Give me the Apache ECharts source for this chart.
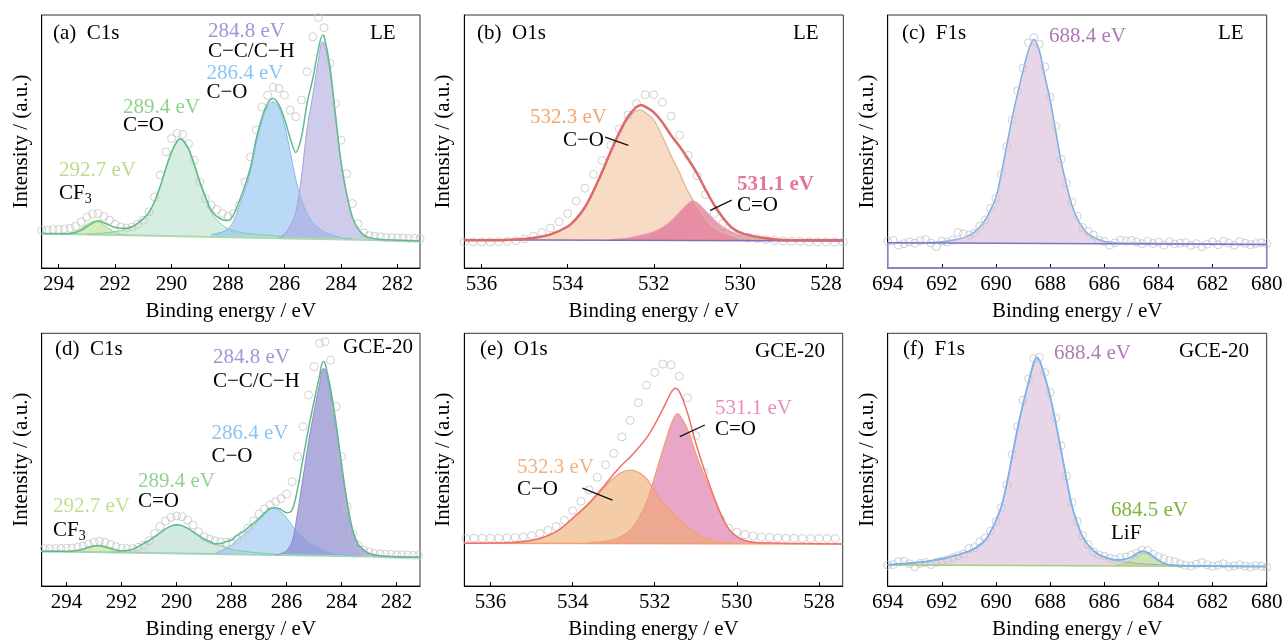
<!DOCTYPE html>
<html><head><meta charset="utf-8">
<script src="https://cdn.jsdelivr.net/npm/echarts@6/dist/echarts.min.js"></script>
<style>html,body{margin:0;padding:0;background:#fff}#c{width:1285px;height:644px}</style>
</head><body><div id="c"></div>
<script>
// ---------- tick labels ----------
const cTicksC = [294,292,290,288,286,284,282];
const cTicksO = [536,534,532,530,528];
const cTicksF = [694,692,690,688,686,684,682,680];

// ---------- (a) C1s LE ----------
const aRaw = [[294.6,14.9],[294.4,14.9],[294.2,15.2],[294.0,15.2],[293.8,15.4],[293.6,15.7],[293.4,16.5],[293.2,18.2],[293.0,20.2],[292.8,21.4],[292.6,21.5],[292.4,20.4],[292.2,18.9],[292.0,17.3],[291.8,16.2],[291.6,15.8],[291.4,16.2],[291.2,17.3],[291.0,18.9],[290.8,22.2],[290.6,28.1],[290.4,36.7],[290.2,45.9],[290.0,51.2],[289.8,53.2],[289.6,52.8],[289.4,49.2],[289.2,42.6],[289.0,34.0],[288.8,27.4],[288.6,24.8],[288.4,23.1],[288.2,21.5],[288.0,20.4],[287.8,21.5],[287.6,24.8],[287.4,34.0],[287.2,43.9],[287.0,54.5],[286.8,63.7],[286.6,68.3],[286.4,71.4],[286.2,71.0],[286.0,68.3],[285.8,62.4],[285.6,59.8],[285.4,66.4],[285.2,77.6],[285.0,91.4],[284.8,99.0],[284.6,95.0],[284.4,80.9],[284.2,65.0],[284.0,50.5],[283.8,37.3],[283.6,25.5],[283.4,17.5],[283.2,13.9],[283.0,12.8],[282.8,12.5],[282.6,12.3],[282.4,12.0],[282.2,12.0],[282.0,11.9],[281.8,11.9],[281.6,11.7],[281.4,11.7],[281.2,11.6]];
const aBg = [[294.6,13.6],[281.2,10.7]];
const aCF3 = [[293.9,13.5],[293.7,13.6],[293.5,14.1],[293.3,15.0],[293.1,16.5],[292.9,17.9],[292.7,18.5],[292.5,17.8],[292.3,16.3],[292.1,14.8],[291.9,13.7],[291.7,13.2],[291.5,13.0]];
const aCdO = [[293.0,13.4],[292.6,13.6],[292.2,14.1],[291.8,14.8],[291.4,16.3],[291.0,19.5],[290.8,22.0],[290.6,26.4],[290.4,32.3],[290.2,39.5],[290.0,45.8],[289.8,50.0],[289.7,50.8],[289.6,50.3],[289.4,46.8],[289.2,40.6],[289.0,33.5],[288.8,27.4],[288.6,22.0],[288.4,19.0],[288.2,17.0],[288.0,15.5],[287.6,14.2],[287.2,13.5],[286.8,13.1],[286.4,12.8],[286.0,12.4]];
const aCO = [[288.6,13.2],[288.2,14.3],[288.0,15.5],[287.8,18.5],[287.6,24.5],[287.4,31.0],[287.2,38.5],[287.0,49.5],[286.8,58.0],[286.6,63.8],[286.4,65.7],[286.2,63.5],[286.0,56.5],[285.8,46.0],[285.6,35.0],[285.4,27.0],[285.2,21.5],[285.0,18.0],[284.8,15.8],[284.6,14.3],[284.4,13.3],[284.0,12.0],[283.6,11.5]];
const aCC = [[286.2,11.9],[286.0,13.5],[285.8,16.5],[285.6,22.0],[285.4,36.0],[285.2,55.0],[285.0,68.0],[284.8,82.0],[284.65,89.5],[284.6,89.0],[284.4,78.5],[284.2,60.0],[284.0,41.5],[283.8,29.0],[283.6,20.0],[283.4,15.5],[283.2,13.0],[283.0,12.0],[282.6,11.3]];
const aEnv = [[294.6,13.6],[294.2,13.5],[293.8,13.5],[293.6,13.6],[293.4,14.0],[293.2,15.0],[293.0,16.4],[292.8,17.8],[292.6,18.7],[292.4,17.9],[292.2,16.9],[292.0,16.1],[291.8,15.7],[291.6,15.7],[291.4,16.3],[291.2,17.7],[291.0,19.5],[290.8,22.0],[290.6,26.4],[290.4,32.3],[290.2,39.5],[290.0,45.8],[289.8,50.3],[289.7,51.0],[289.6,50.6],[289.4,47.2],[289.2,41.1],[289.0,34.2],[288.8,28.3],[288.6,22.9],[288.4,20.4],[288.2,19.1],[288.0,18.8],[287.8,21.1],[287.6,26.5],[287.4,32.6],[287.2,40.0],[287.0,51.1],[286.8,59.4],[286.6,65.0],[286.4,67.0],[286.2,64.6],[286.0,58.9],[285.8,51.3],[285.6,45.7],[285.4,51.7],[285.2,65.1],[285.0,74.7],[284.8,86.4],[284.65,92.0],[284.6,91.8],[284.4,80.4],[284.2,61.2],[284.0,42.2],[283.8,29.4],[283.6,20.3],[283.4,15.7],[283.2,13.1],[283.0,12.0],[282.6,11.3],[282.0,11.0],[281.2,10.7]];

// ---------- (b) O1s LE ----------
const bRaw = [[536.4,10.3],[536.2,10.3],[536.0,10.3],[535.8,10.3],[535.6,10.4],[535.4,10.5],[535.2,10.8],[535.0,11.5],[534.8,12.5],[534.6,14.0],[534.4,15.8],[534.2,18.3],[534.0,21.5],[533.8,26.5],[533.6,31.5],[533.4,37.0],[533.2,42.5],[533.0,48.5],[532.8,55.0],[532.6,60.5],[532.4,65.0],[532.2,68.5],[532.0,68.5],[531.8,65.5],[531.6,60.0],[531.4,52.5],[531.2,44.5],[531.0,36.5],[530.8,29.0],[530.6,21.5],[530.4,17.5],[530.2,14.5],[530.0,13.0],[529.8,12.0],[529.6,11.6],[529.4,11.2],[529.2,10.9],[529.0,10.7],[528.8,10.6],[528.6,10.5],[528.4,10.4],[528.2,10.3],[528.0,10.3],[527.8,10.3],[527.6,10.3]];
const bBg = [[536.4,11.2],[527.6,10.7]];
const bCO = [[535.6,11.0],[535.2,11.3],[534.8,11.9],[534.6,12.5],[534.4,13.3],[534.2,14.5],[534.0,16.4],[533.8,19.5],[533.6,24.0],[533.4,30.5],[533.2,38.0],[533.0,45.8],[532.8,53.0],[532.6,59.0],[532.4,62.2],[532.3,62.4],[532.2,61.5],[532.0,58.5],[531.8,52.0],[531.6,44.5],[531.4,37.5],[531.2,30.0],[531.0,24.5],[530.8,19.5],[530.6,16.0],[530.4,14.0],[530.2,12.8],[530.0,12.0],[529.6,11.3],[529.2,11.0]];
const bCdO = [[533.0,11.2],[532.6,11.8],[532.4,12.5],[532.2,13.3],[532.0,14.3],[531.8,16.0],[531.6,18.5],[531.4,22.0],[531.2,25.5],[531.1,26.4],[531.0,25.8],[530.8,22.5],[530.6,19.0],[530.4,16.2],[530.2,14.3],[530.0,13.0],[529.8,12.3],[529.4,11.5],[529.0,11.1]];
const bEnv = [[536.4,11.0],[535.6,11.0],[535.2,11.3],[534.8,11.9],[534.4,13.3],[534.0,16.4],[533.8,19.5],[533.6,24.0],[533.4,30.5],[533.2,38.0],[533.0,46.0],[532.8,53.5],[532.6,59.8],[532.4,63.7],[532.3,64.3],[532.2,63.8],[532.0,61.5],[531.8,57.5],[531.6,52.5],[531.4,48.0],[531.2,43.0],[531.0,37.5],[530.8,31.0],[530.6,25.0],[530.4,20.0],[530.2,16.1],[530.0,14.0],[529.8,13.0],[529.4,11.8],[529.0,11.1],[528.4,11.0],[527.6,11.0]];
const bLeadCO = [[533.13,51.7],[532.59,48.5]];
const bLeadCdO = [[530.19,26.8],[530.69,22.8]];

// ---------- (c) F1s LE ----------
const cRaw = [[694.0,10.5],[693.8,10.9],[693.6,9.0],[693.4,9.6],[693.2,10.3],[693.0,9.8],[692.8,10.8],[692.6,11.2],[692.4,9.9],[692.2,8.5],[692.0,10.6],[691.8,10.2],[691.6,11.0],[691.4,14.0],[691.2,13.5],[691.0,13.0],[690.8,13.8],[690.6,16.5],[690.4,19.0],[690.2,23.5],[690.0,27.5],[689.8,37.0],[689.6,48.0],[689.4,58.5],[689.2,70.0],[689.0,79.0],[688.8,89.0],[688.6,91.0],[688.4,88.5],[688.2,79.5],[688.0,67.5],[687.8,56.0],[687.6,43.0],[687.4,33.5],[687.2,26.0],[687.0,20.5],[686.8,16.0],[686.6,14.5],[686.4,13.0],[686.2,11.0],[686.0,10.5],[685.8,9.0],[685.6,10.0],[685.4,11.0],[685.2,10.6],[685.0,10.9],[684.8,10.3],[684.6,9.6],[684.4,10.5],[684.2,9.7],[684.0,10.2],[683.8,9.0],[683.6,10.4],[683.4,9.5],[683.2,9.8],[683.0,10.0],[682.8,8.9],[682.6,9.6],[682.4,8.4],[682.2,9.4],[682.0,10.3],[681.8,9.2],[681.6,10.5],[681.4,9.8],[681.2,9.0],[681.0,10.4],[680.8,9.8],[680.6,9.2],[680.4,9.6],[680.2,10.0],[680.0,9.7]];
const cBg = [[694,10.0],[680,9.3]];
const cBox = [[694,10.0],[694,0],[680,0],[680,9.3]];
const cFit = [[694.0,10.0],[693.0,10.0],[692.4,10.1],[692.0,10.4],[691.6,11.0],[691.2,12.0],[691.0,12.8],[690.8,14.2],[690.6,16.2],[690.4,19.0],[690.2,23.0],[690.0,28.0],[689.8,37.5],[689.6,48.5],[689.4,59.5],[689.2,69.0],[689.0,78.0],[688.8,86.0],[688.6,90.4],[688.4,86.0],[688.2,76.0],[688.0,66.4],[687.8,54.5],[687.6,42.5],[687.4,33.0],[687.2,25.0],[687.0,19.5],[686.8,16.0],[686.6,13.5],[686.4,12.2],[686.2,11.2],[686.0,10.5],[685.6,10.0],[685.0,9.8],[684.0,9.7],[682.0,9.5],[680.0,9.3]];

// ---------- (d) C1s GCE-20 ----------
const dRaw = [[294.8,14.8],[294.6,14.8],[294.4,14.8],[294.2,14.9],[294.0,15.0],[293.8,15.0],[293.6,15.3],[293.4,15.8],[293.2,16.5],[293.0,17.3],[292.8,17.7],[292.6,17.3],[292.4,16.4],[292.2,15.6],[292.0,15.0],[291.8,14.8],[291.6,14.8],[291.4,15.3],[291.2,16.2],[291.0,17.9],[290.8,20.8],[290.6,23.5],[290.4,25.7],[290.2,27.2],[290.0,27.7],[289.8,27.4],[289.6,26.1],[289.4,24.1],[289.2,21.5],[289.0,19.5],[288.8,18.5],[288.6,17.9],[288.4,17.5],[288.2,17.3],[288.0,17.5],[287.8,18.5],[287.6,20.2],[287.4,22.8],[287.2,25.7],[287.0,28.5],[286.8,30.5],[286.6,32.1],[286.4,33.4],[286.2,34.6],[286.0,36.4],[285.8,41.3],[285.6,51.2],[285.4,63.1],[285.2,75.6],[285.0,86.8],[284.8,96.0],[284.6,96.7],[284.4,89.4],[284.2,71.0],[284.0,51.2],[283.8,31.4],[283.6,20.8],[283.4,16.2],[283.2,14.2],[283.0,13.5],[282.8,12.9],[282.6,12.7],[282.4,12.5],[282.2,12.5],[282.0,12.4],[281.8,12.3],[281.6,12.3],[281.4,12.1],[281.2,12.1]];
const dBg = [[294.9,13.8],[281.15,11.4]];
const dCF3 = [[294.0,13.7],[293.6,14.1],[293.4,14.6],[293.2,15.3],[293.0,15.8],[292.9,15.9],[292.8,15.8],[292.6,15.3],[292.4,14.6],[292.2,14.0],[291.8,13.4]];
const dCdO = [[292.4,13.4],[292.0,13.6],[291.6,14.4],[291.4,15.6],[291.2,16.8],[291.0,18.0],[290.8,19.5],[290.6,21.0],[290.4,22.6],[290.2,23.7],[290.0,24.1],[289.8,23.8],[289.6,22.8],[289.4,21.3],[289.2,19.8],[289.0,18.3],[288.8,17.2],[288.6,16.5],[288.4,15.9],[288.0,14.6],[287.6,13.8],[287.0,13.1],[286.4,12.6]];
const dCO = [[288.6,12.9],[288.2,14.8],[288.0,16.2],[287.8,18.3],[287.6,20.0],[287.4,22.0],[287.2,24.0],[287.0,26.0],[286.8,28.3],[286.6,30.3],[286.5,30.7],[286.4,30.5],[286.2,29.3],[286.0,27.0],[285.8,24.0],[285.6,21.5],[285.4,19.5],[285.2,17.5],[285.0,16.2],[284.8,15.2],[284.6,14.3],[284.4,13.4],[284.2,12.8],[283.8,12.2],[283.4,11.9]];
const dCC = [[286.4,12.3],[286.2,12.8],[286.0,14.0],[285.8,17.5],[285.6,29.0],[285.4,43.0],[285.2,57.0],[285.0,69.0],[284.8,80.0],[284.67,86.0],[284.6,85.8],[284.4,76.5],[284.2,63.5],[284.0,47.5],[283.8,33.0],[283.6,22.0],[283.4,16.5],[283.2,14.2],[283.0,12.8],[282.6,11.9]];
const dEnv = [[294.9,13.8],[294.4,13.8],[294.0,13.7],[293.6,14.1],[293.4,14.6],[293.2,15.3],[293.0,15.8],[292.8,15.9],[292.6,15.5],[292.4,14.9],[292.2,14.3],[292.0,13.9],[291.8,14.1],[291.6,14.5],[291.4,15.6],[291.2,16.8],[291.0,18.0],[290.8,19.5],[290.6,21.0],[290.4,22.6],[290.2,23.7],[290.0,24.2],[289.8,23.9],[289.6,22.9],[289.4,21.5],[289.2,20.0],[289.0,18.6],[288.8,17.7],[288.6,16.7],[288.4,16.8],[288.2,17.5],[288.0,18.2],[287.8,20.0],[287.6,21.3],[287.4,23.1],[287.2,24.9],[287.0,26.7],[286.8,28.9],[286.6,30.8],[286.4,31.0],[286.2,30.2],[286.0,29.0],[285.8,30.0],[285.6,38.5],[285.4,50.5],[285.2,62.4],[285.0,73.1],[284.8,83.2],[284.67,88.8],[284.6,88.1],[284.4,78.0],[284.2,64.4],[284.0,48.1],[283.8,33.4],[283.6,22.2],[283.4,16.6],[283.2,14.3],[283.0,12.9],[282.6,11.95],[282.0,11.55],[281.15,11.4]];

// ---------- (e) O1s GCE-20 ----------
const eRaw = [[536.6,18.9],[536.4,18.9],[536.2,18.9],[536.0,18.9],[535.8,18.9],[535.6,19.0],[535.4,19.2],[535.2,19.5],[535.0,20.0],[534.8,20.8],[534.6,22.0],[534.4,23.5],[534.2,26.0],[534.0,29.8],[533.8,33.5],[533.6,38.0],[533.4,43.0],[533.2,48.0],[533.0,52.5],[532.8,59.0],[532.6,65.5],[532.4,72.5],[532.2,79.5],[532.0,84.5],[531.8,87.8],[531.6,87.5],[531.4,83.0],[531.2,74.5],[531.0,59.5],[530.8,45.0],[530.6,31.0],[530.4,26.5],[530.2,22.8],[530.0,21.3],[529.8,20.4],[529.6,19.8],[529.4,19.4],[529.2,19.2],[529.0,19.0],[528.8,18.9],[528.6,18.9],[528.4,18.8],[528.2,18.8],[528.0,18.8],[527.8,18.8],[527.6,18.8],[527.4,18.8]];
const eBg = [[536.64,16.9],[527.42,16.6]];
const eCO = [[535.6,17.1],[535.2,17.6],[534.8,18.8],[534.4,21.5],[534.2,23.8],[534.0,26.8],[533.8,29.5],[533.6,32.5],[533.4,36.0],[533.2,39.5],[533.0,42.8],[532.8,45.0],[532.6,45.9],[532.4,45.0],[532.2,42.5],[532.0,37.5],[531.8,33.0],[531.6,29.5],[531.4,26.0],[531.2,23.3],[531.0,21.0],[530.8,19.2],[530.6,18.0],[530.4,17.3],[530.0,16.9]];
const eCdO = [[533.6,17.2],[533.2,17.7],[533.0,18.4],[532.8,19.8],[532.6,22.0],[532.4,26.5],[532.2,33.0],[532.0,43.3],[531.8,54.0],[531.6,64.0],[531.45,68.1],[531.4,67.8],[531.2,62.0],[531.0,52.5],[530.8,44.0],[530.6,36.0],[530.4,28.5],[530.2,22.5],[530.0,19.5],[529.8,18.0],[529.6,17.3],[529.2,17.0],[528.8,16.8]];
const eEnv = [[536.64,16.9],[535.6,17.1],[535.2,17.6],[534.8,18.8],[534.4,21.5],[534.0,26.8],[533.6,32.8],[533.2,40.3],[533.0,44.3],[532.8,47.9],[532.6,51.0],[532.4,54.6],[532.2,58.6],[532.0,63.9],[531.8,70.1],[531.6,76.6],[531.5,78.3],[531.4,76.9],[531.2,68.4],[531.0,56.6],[530.8,46.3],[530.6,37.1],[530.4,28.9],[530.2,22.7],[530.0,19.5],[529.8,18.0],[529.6,17.3],[529.2,17.0],[528.4,16.8],[527.42,16.6]];
const eLeadCdO = [[530.78,63.7],[531.39,59.1]];
const eLeadCO = [[533.76,38.7],[533.03,34.0]];

// ---------- (f) F1s GCE-20 ----------
const fRaw = [[694.0,8.2],[693.8,8.5],[693.6,9.6],[693.4,9.8],[693.2,8.8],[693.0,7.6],[692.8,8.9],[692.6,9.3],[692.4,8.5],[692.2,9.4],[692.0,9.9],[691.8,10.4],[691.6,11.2],[691.4,12.0],[691.2,12.6],[691.0,14.8],[690.8,15.2],[690.6,17.5],[690.4,19.0],[690.2,21.8],[690.0,25.5],[689.8,31.0],[689.6,40.0],[689.4,52.0],[689.2,63.0],[689.0,73.5],[688.8,82.0],[688.6,90.0],[688.4,90.5],[688.2,84.5],[688.0,76.5],[687.8,66.5],[687.6,55.5],[687.4,43.5],[687.2,33.0],[687.0,25.5],[686.8,20.0],[686.6,16.5],[686.4,13.5],[686.2,12.3],[686.0,11.8],[685.8,11.0],[685.6,10.6],[685.4,11.2],[685.2,11.5],[685.0,12.2],[684.8,13.0],[684.6,14.2],[684.4,14.0],[684.2,12.5],[684.0,11.5],[683.8,10.8],[683.6,10.0],[683.4,9.6],[683.2,8.8],[683.0,8.2],[682.8,7.9],[682.6,8.6],[682.4,9.3],[682.2,8.4],[682.0,7.8],[681.8,8.2],[681.6,8.8],[681.4,7.6],[681.2,8.0],[681.0,8.4],[680.8,7.9],[680.6,7.5],[680.4,8.1],[680.2,7.8],[680.0,7.4]];
const fBg = [[694,8.3],[680,7.7]];
const fMain = [[694.0,8.4],[693.0,9.2],[692.4,10.0],[692.0,10.7],[691.6,11.8],[691.2,13.0],[690.8,14.8],[690.6,16.3],[690.4,18.2],[690.2,21.5],[690.0,26.0],[689.8,31.5],[689.6,40.5],[689.4,51.5],[689.2,62.5],[689.0,72.0],[688.8,80.5],[688.6,88.5],[688.5,90.4],[688.4,89.5],[688.2,83.0],[688.0,75.0],[687.8,65.0],[687.6,54.0],[687.4,42.5],[687.2,32.0],[687.0,25.0],[686.8,19.5],[686.6,16.3],[686.4,14.0],[686.2,12.5],[686.0,11.5],[685.6,10.2],[685.0,9.2],[684.0,8.4],[683.0,8.0],[682.0,7.9],[680.0,7.7]];
const fLiF = [[685.6,8.3],[685.4,8.6],[685.2,9.3],[685.0,10.4],[684.8,12.0],[684.6,13.2],[684.4,12.8],[684.2,11.5],[684.0,10.0],[683.8,8.9],[683.6,8.4],[683.4,8.2]];
const fEnv = [[694.0,8.4],[693.0,9.2],[692.4,10.0],[692.0,10.7],[691.6,11.8],[691.2,13.0],[690.8,14.8],[690.6,16.3],[690.4,18.2],[690.2,21.5],[690.0,26.0],[689.8,31.5],[689.6,40.5],[689.4,51.5],[689.2,62.5],[689.0,72.0],[688.8,80.5],[688.6,88.5],[688.5,90.4],[688.4,89.5],[688.2,83.0],[688.0,75.0],[687.8,65.0],[687.6,54.0],[687.4,42.5],[687.2,32.0],[687.0,25.0],[686.8,19.5],[686.6,16.3],[686.4,14.0],[686.2,12.5],[686.0,11.5],[685.6,10.3],[685.4,10.3],[685.2,10.7],[685.0,11.4],[684.8,12.8],[684.6,13.8],[684.4,13.2],[684.2,11.8],[684.0,10.2],[683.8,9.0],[683.6,8.4],[683.0,8.0],[682.0,7.9],[680.0,7.7]];

// ---------- layout ----------
const FONT = "'Liberation Serif','Times New Roman',serif";
const panels = [
  {box:[41.7,15,378.3,253],   xr:[281.2,294.6],   ticks:cTicksC},
  {box:[464.3,15,379,253],    xr:[527.6,536.4],   ticks:cTicksO},
  {box:[887.7,15,379,253],    xr:[680,694],       ticks:cTicksF, axisColor:'#8a80d0'},
  {box:[41.7,333.3,378.3,252.7], xr:[281.15,294.9], ticks:cTicksC},
  {box:[464.3,333.3,378.4,252.7], xr:[527.42,536.64], ticks:cTicksO},
  {box:[887.7,333.3,379,252.7], xr:[680,694],     ticks:cTicksF}
];

const grid = panels.map(p => ({left:p.box[0], top:p.box[1], width:p.box[2], height:p.box[3],
  show:true, borderColor:'#333', borderWidth:1, containLabel:false, outerBoundsMode:'none'}));
const xAxis = panels.map((p,i) => ({gridIndex:i, type:'value', inverse:true, min:p.xr[0], max:p.xr[1],
  name:'Binding energy / eV', nameLocation:'middle', nameGap:33,
  nameTextStyle:{fontFamily:FONT, fontSize:21, color:'#000'},
  axisLine:{show:true, onZero:false, lineStyle:{color:p.axisColor||'#000', width:1}},
  axisTick:{show:true, inside:true, length:4, customValues:p.ticks, lineStyle:{color:'#000', width:1}},
  axisLabel:{show:true, customValues:p.ticks, fontFamily:FONT, fontSize:21, color:'#000', margin:6},
  splitLine:{show:false}}));
const yAxis = panels.map((p,i) => ({gridIndex:i, type:'value', min:0, max:100,
  name:'Intensity / (a.u.)', nameLocation:'middle', nameGap:10, nameRotate:90,
  nameTextStyle:{fontFamily:FONT, fontSize:21, color:'#000'},
  axisLine:{show:true, onZero:false, lineStyle:{color:'#000', width:1}},
  axisTick:{show:false}, axisLabel:{show:false}, splitLine:{show:false}}));

function curve(gi, data, color, width, fill, origin, z) {
  const s = {type:'line', xAxisIndex:gi, yAxisIndex:gi, data:data, symbol:'none', showSymbol:false,
    smooth:0.35, lineStyle:{color:color, width:width}, silent:true, z:z||2, animation:false};
  if (fill) s.areaStyle = {color:fill, opacity:1, origin:origin};
  return s;
}
function dots(gi, data) {
  return {type:'scatter', xAxisIndex:gi, yAxisIndex:gi, data:data, symbol:'circle', symbolSize:8,
    itemStyle:{color:'rgba(255,255,255,0)', borderColor:'#c4c4c4', borderWidth:1}, silent:true, z:3, animation:false};
}
function lead(gi, data) {
  return {type:'line', xAxisIndex:gi, yAxisIndex:gi, data:data, symbol:'none', lineStyle:{color:'#111', width:1.3}, silent:true, z:6, animation:false};
}

const series = [
  // (a)
  curve(0, aBg, '#a9dca8', 2, null, null, 2),
  curve(0, aCF3, '#a8d68a', 1, 'rgba(170,215,130,0.5)', 13.1, 2),
  curve(0, aCdO, '#86cda4', 1, 'rgba(180,222,200,0.55)', 12.7, 2),
  curve(0, aCO, '#86b9ef', 1, 'rgba(130,185,240,0.55)', 11.9, 2),
  curve(0, aCC, '#a5a3d9', 1, 'rgba(168,163,218,0.55)', 11.4, 2),
  dots(0, aRaw),
  curve(0, aEnv, '#5fbb8a', 1.5, null, null, 4),
  // (b)
  curve(1, bCO, '#deb58f', 1.2, 'rgba(240,190,150,0.55)', 10.9, 2),
  curve(1, bCdO, '#e99bb5', 1.2, 'rgba(225,110,150,0.7)', 10.9, 2),
  dots(1, bRaw),
  curve(1, bBg, '#8c6ab5', 1.5, null, null, 4),
  curve(1, bEnv, '#dc6a6a', 2.5, null, null, 4),
  lead(1, bLeadCO), lead(1, bLeadCdO),
  // (c)
  curve(2, cFit, '#7aaee8', 1.5, 'rgba(214,180,214,0.55)', 9.8, 2),
  dots(2, cRaw),
  curve(2, cBg, '#7d74d0', 1.5, null, null, 4),
  Object.assign(curve(2, cBox, '#8a80d0', 1.5, null, null, 5), {smooth:false, clip:false}),
  // (d)
  curve(3, dBg, '#9fd4b8', 2, null, null, 2),
  curve(3, dCF3, '#b8dc8a', 1, 'rgba(190,225,140,0.6)', 13.4, 2),
  curve(3, dCdO, '#86cda4', 1, 'rgba(180,218,205,0.6)', 13.0, 2),
  curve(3, dCO, '#86b9ef', 1, 'rgba(150,195,240,0.6)', 12.3, 2),
  curve(3, dCC, '#8e8ccc', 1, 'rgba(140,138,205,0.7)', 11.9, 2),
  dots(3, dRaw),
  curve(3, dEnv, '#5fbb8a', 1.5, null, null, 4),
  // (e)
  curve(4, eCdO, '#f0a070', 1.2, '#eaa6c6', 16.8, 2),
  curve(4, eCO, '#f0a070', 1.2, 'rgba(236,170,110,0.6)', 16.8, 2),
  dots(4, eRaw),
  curve(4, eBg, '#f0a070', 1.5, null, null, 4),
  curve(4, eEnv, '#f07070', 1.5, null, null, 4),
  lead(4, eLeadCdO), lead(4, eLeadCO),
  // (f)
  curve(5, fMain, '#b99ad0', 1, 'rgba(214,180,214,0.55)', 8.1, 2),
  curve(5, fLiF, '#a6d27a', 1, 'rgba(170,215,120,0.6)', 8.1, 2),
  dots(5, fRaw),
  curve(5, fBg, '#a0d080', 1.5, null, null, 4),
  curve(5, fEnv, '#7ab2ec', 1.8, null, null, 4)
];

// ---------- annotation texts: [x, y, text, color, bold, size] ----------
const labels = [
  [53,33,'(a)  C1s'],[370,33,'LE'],
  [208,31,'284.8 eV','#9b98d6'],[208,51,'C\u2212C/C\u2212H'],
  [206.5,73,'286.4 eV','#8ec3f5'],[206.5,92,'C\u2212O'],
  [123,107,'289.4 eV','#8fd08e'],[123,125,'C=O'],
  [59,170,'292.7 eV','#b8dc8e'],[59,193,'CF'],[84.7,199,'3',null,false,14],
  [477,33,'(b)  O1s'],[793,33,'LE'],
  [530,117,'532.3 eV','#f2a66d'],[563,140,'C\u2212O'],
  [737,185,'531.1 eV','#e4769d',true],[737,205,'C=O'],
  [902,33,'(c)  F1s'],[1218,33,'LE'],
  [1049,36,'688.4 eV','#ad78b5'],
  [55,349,'(d)  C1s'],[343,347,'GCE-20'],
  [213,357,'284.8 eV','#9b98d6'],[213,381,'C\u2212C/C\u2212H'],
  [211.5,433,'286.4 eV','#8ec3f5'],[211.5,456,'C\u2212O'],
  [138,481,'289.4 eV','#92d290'],[138,501,'C=O'],
  [53,506,'292.7 eV','#bee08e'],[53,530,'CF'],[78.7,536,'3',null,false,14],
  [480,349,'(e)  O1s'],[755,351,'GCE-20'],
  [715,408,'531.1 eV','#ea8cc0'],[715,429,'C=O'],
  [517,467,'532.3 eV','#f2b07e'],[517,489,'C\u2212O'],
  [903,349,'(f)  F1s'],[1179,351,'GCE-20'],
  [1054,353,'688.4 eV','#b27ab8'],
  [1111,510,'684.5 eV','#7db53c'],[1111,533,'LiF']
];
const graphic = labels.map(t => ({type:'text', x:t[0], y:t[1], silent:true, z:100,
  style:{text:t[2], fill:t[3]||'#000', font:(t[4]?'bold ':'')+(t[5]||21)+'px '+FONT, align:'left', verticalAlign:'middle'}}));

const chart = echarts.init(document.getElementById('c'), null, {renderer:'canvas', width:1285, height:644});
chart.setOption({animation:false, backgroundColor:'#fff', grid, xAxis, yAxis, series, graphic});
</script></body></html>
